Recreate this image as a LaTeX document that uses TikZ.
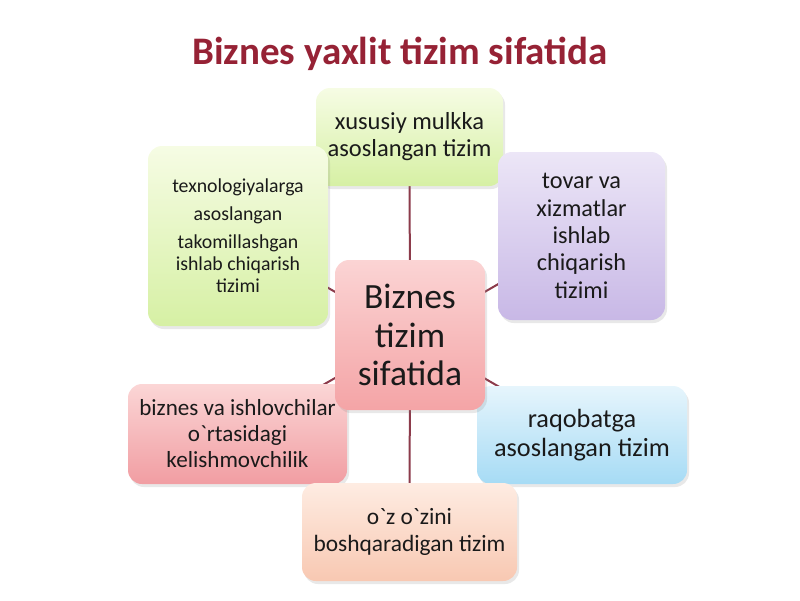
\documentclass[tikz,border=0pt]{standalone}
\usepackage{fontspec}
\setmainfont{Carlito}
\usetikzlibrary{shadows,backgrounds}
\definecolor{titlered}{HTML}{962235}
\definecolor{linecol}{HTML}{8C3B4B}
\definecolor{txt}{HTML}{1A1A1A}
\newcommand{\bq}{{\addfontfeatures{Ligatures=TeXOff}\symbol{96}}}
\tikzset{
  box/.style={rectangle, rounded corners=14pt, align=center, text=txt, inner sep=2pt,
    drop shadow={opacity=0.18, shadow xshift=2pt, shadow yshift=-3pt}},
  conn/.style={draw=linecol, line width=2pt},
  greenbox/.style={box, top color={rgb,255:red,246;green,252;blue,228}, bottom color={rgb,255:red,214;green,240;blue,164}},
  purplebox/.style={box, top color={rgb,255:red,236;green,230;blue,247}, bottom color={rgb,255:red,200;green,184;blue,230}},
  pinkbox/.style={box, top color={rgb,255:red,251;green,212;blue,212}, bottom color={rgb,255:red,244;green,164;blue,166}},
  redbox/.style={box, top color={rgb,255:red,251;green,214;blue,214}, bottom color={rgb,255:red,241;green,157;blue,162}},
  bluebox/.style={box, top color={rgb,255:red,230;green,245;blue,252}, bottom color={rgb,255:red,166;green,219;blue,245}},
  peachbox/.style={box, top color={rgb,255:red,254;green,236;blue,226}, bottom color={rgb,255:red,248;green,200;blue,178}},
}
\begin{document}
\begin{tikzpicture}[x=1pt,y=-1pt]
\useasboundingbox (0,0) rectangle (800,600);
\node[text=titlered, font=\fontsize{39}{45}\selectfont\bfseries] (title) at (400,54) {Biznes yaxlit tizim sifatida};
\node[greenbox, minimum width=187pt, minimum height=98pt, font=\fontsize{24.5}{27}\selectfont] (top) at (409.5,137) {xususiy mulkka\\asoslangan tizim};
\node[greenbox, minimum width=180pt, minimum height=180pt, font=\fontsize{19.8}{22}\selectfont] (left) at (238,236) {texnologiyalarga\\[6pt]asoslangan\\[6pt]takomillashgan\\ishlab chiqarish\\tizimi};
\node[purplebox, minimum width=167pt, minimum height=168pt, font=\fontsize{24.3}{27.4}\selectfont] (right) at (581.5,236) {tovar va\\xizmatlar\\ishlab\\chiqarish\\tizimi};
\node[redbox, minimum width=219pt, minimum height=100pt, font=\fontsize{23.1}{26}\selectfont] (bleft) at (237.5,434) {biznes va ishlovchilar\\o\bq rtasidagi\\kelishmovchilik};
\node[bluebox, minimum width=210pt, minimum height=98pt, font=\fontsize{26.3}{29}\selectfont] (bright) at (582,435) {raqobatga\\asoslangan tizim};
\node[peachbox, minimum width=215pt, minimum height=98pt, font=\fontsize{23.4}{27}\selectfont] (bottom) at (409.5,532) {o\bq z o\bq zini\\boshqaradigan tizim};
\node[pinkbox, minimum width=150pt, minimum height=150pt, font=\fontsize{35.5}{38.5}\selectfont] (center) at (410,335) {Biznes\\tizim\\sifatida};
\begin{scope}[on background layer]
  \draw[conn] (center.center) -- (top.center);
  \draw[conn] (center.center) -- (left.center);
  \draw[conn] (center.center) -- (right.center);
  \draw[conn] (center.center) -- (bleft.center);
  \draw[conn] (center.center) -- (bright.center);
  \draw[conn] (center.center) -- (bottom.center);
\end{scope}
\end{tikzpicture}
\end{document}
